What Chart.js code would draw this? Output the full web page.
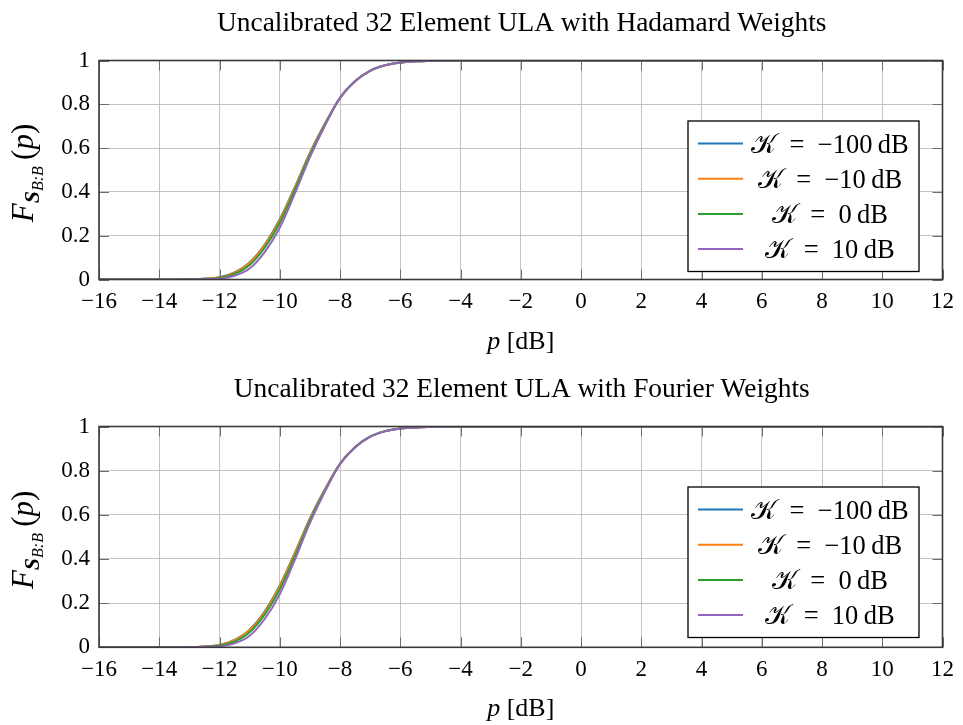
<!DOCTYPE html>
<html><head><meta charset="utf-8">
<script src="https://cdn.jsdelivr.net/npm/chart.js@4"></script>
<style>
html,body{margin:0;padding:0;background:#fff;width:963px;height:725px;overflow:hidden}
canvas{position:absolute;left:0}
</style></head><body>
<canvas id="c1" width="963" height="362" style="top:0px"></canvas>
<canvas id="c2" width="963" height="359" style="top:366px"></canvas>
<script>
// ---------------- data ----------------
const titles = ['Uncalibrated 32 Element ULA with Hadamard Weights', 'Uncalibrated 32 Element ULA with Fourier Weights'];
const seriesLabels = ['−100', '−10', '0', '10'];
const seriesColors = ['#1f77b4', '#ff7f0e', '#2ca02c', '#9467bd'];
const xTicks = [-16, -14, -12, -10, -8, -6, -4, -2, 0, 2, 4, 6, 8, 10, 12];
const yTicks = [0, 0.2, 0.4, 0.6, 0.8, 1];
const xValues = [-16, -15, -14, -13, -12.5, -12, -11.5, -11, -10.5, -10, -9.5, -9, -8.5, -8, -7.5, -7, -6.5, -6, -5.5, -5, -4.5, -4, -3, -2, 0, 2, 4, 6, 8, 10, 12];

const hadamardKm100 = [0, 0, 0, 0.001, 0.004, 0.010, 0.032, 0.078, 0.160, 0.275, 0.422, 0.578, 0.712, 0.830, 0.906, 0.954, 0.979, 0.991, 0.996, 0.998, 0.999, 1, 1, 1, 1, 1, 1, 1, 1, 1, 1];
const hadamardKm10  = [0, 0, 0, 0.001, 0.004, 0.009, 0.030, 0.075, 0.156, 0.270, 0.418, 0.575, 0.710, 0.829, 0.905, 0.953, 0.978, 0.990, 0.996, 0.998, 0.999, 1, 1, 1, 1, 1, 1, 1, 1, 1, 1];
const hadamardK0    = [0, 0, 0, 0.001, 0.003, 0.007, 0.025, 0.066, 0.145, 0.258, 0.408, 0.568, 0.707, 0.829, 0.905, 0.953, 0.978, 0.990, 0.996, 0.998, 0.999, 1, 1, 1, 1, 1, 1, 1, 1, 1, 1];
const hadamardK10   = [0, 0, 0, 0.000, 0.002, 0.004, 0.017, 0.050, 0.125, 0.236, 0.392, 0.558, 0.702, 0.828, 0.905, 0.953, 0.978, 0.990, 0.996, 0.998, 0.999, 1, 1, 1, 1, 1, 1, 1, 1, 1, 1];

const fourierKm100 = [0, 0, 0, 0.001, 0.004, 0.011, 0.034, 0.080, 0.163, 0.280, 0.428, 0.584, 0.716, 0.832, 0.907, 0.955, 0.979, 0.991, 0.996, 0.998, 0.999, 1, 1, 1, 1, 1, 1, 1, 1, 1, 1];
const fourierKm10  = [0, 0, 0, 0.001, 0.004, 0.010, 0.032, 0.078, 0.160, 0.276, 0.424, 0.580, 0.714, 0.831, 0.906, 0.954, 0.979, 0.991, 0.996, 0.998, 0.999, 1, 1, 1, 1, 1, 1, 1, 1, 1, 1];
const fourierK0    = [0, 0, 0, 0.001, 0.003, 0.008, 0.026, 0.068, 0.148, 0.262, 0.412, 0.572, 0.710, 0.830, 0.906, 0.954, 0.979, 0.991, 0.996, 0.998, 0.999, 1, 1, 1, 1, 1, 1, 1, 1, 1, 1];
const fourierK10   = [0, 0, 0, 0.000, 0.002, 0.004, 0.018, 0.052, 0.128, 0.240, 0.396, 0.562, 0.705, 0.829, 0.905, 0.953, 0.978, 0.990, 0.996, 0.998, 0.999, 1, 1, 1, 1, 1, 1, 1, 1, 1, 1];

// ---------------- helpers ----------------
const SERIF = "'Liberation Serif', 'DejaVu Serif', serif";
const fmt = v => String(v).replace('-', '−');

function drawRuns(ctx, runs, cx, cy) {
  // runs: [text, font, dy]
  let total = 0;
  runs.forEach(r => { ctx.font = r[1]; total += ctx.measureText(r[0]).width; });
  let x = cx - total / 2;
  ctx.textBaseline = 'alphabetic';
  ctx.textAlign = 'left';
  runs.forEach(r => { ctx.font = r[1]; ctx.fillText(r[0], x, cy + (r[2] || 0)); x += ctx.measureText(r[0]).width; });
}

const decoPlugin = {
  id: 'deco',
  afterDraw(chart, args, opts) {
    const ctx = chart.ctx;
    const a = chart.chartArea;
    const xs = chart.scales.x, ys = chart.scales.y;
    ctx.save();
    // inward tick marks
    ctx.strokeStyle = '#6e6e6e';
    ctx.lineWidth = 1;
    ctx.beginPath();
    xTicks.forEach(v => {
      const px = Math.round(xs.getPixelForValue(v)) + 0.5;
      ctx.moveTo(px, a.bottom); ctx.lineTo(px, a.bottom - 10);
      ctx.moveTo(px, a.top); ctx.lineTo(px, a.top + 10);
    });
    yTicks.forEach(v => {
      const py = Math.round(ys.getPixelForValue(v)) + 0.5;
      ctx.moveTo(a.left, py); ctx.lineTo(a.left + 10, py);
      ctx.moveTo(a.right, py); ctx.lineTo(a.right - 10, py);
    });
    ctx.stroke();
    // axis box
    ctx.strokeStyle = '#3a3a3a';
    ctx.lineWidth = 1.6;
    ctx.strokeRect(a.left, a.top, a.right - a.left, a.bottom - a.top);
    // title
    ctx.fillStyle = '#000';
    ctx.font = '27.4px ' + SERIF;
    ctx.textAlign = 'center';
    ctx.textBaseline = 'alphabetic';
    ctx.fillText(opts.title, (a.left + a.right) / 2 + 1, a.top - 30);
    // x axis title
    drawRuns(ctx, [['p', 'italic 26px ' + SERIF, 0], [' [dB]', '26px ' + SERIF, 0]], (a.left + a.right) / 2, a.bottom + 69);
    // y axis title (rotated)
    ctx.save();
    ctx.translate(33, (a.top + a.bottom) / 2 + 3);
    ctx.rotate(-Math.PI / 2);
    drawRuns(ctx, [
      ['F', 'italic 31px ' + SERIF, 0],
      ['S', 'italic bold 22px ' + SERIF, 6],
      ['B:B', 'italic 16px ' + SERIF, 10],
      ['\u2009(', '31px ' + SERIF, 0],
      ['p', 'italic 31px ' + SERIF, 0],
      [')', '31px ' + SERIF, 0]
    ], 0, 0);
    ctx.restore();
    // legend box
    const lx = 688, ly = a.top + 60.5, lw = 231, lh = 150.5;
    ctx.fillStyle = '#fff';
    ctx.fillRect(lx, ly, lw, lh);
    ctx.strokeStyle = '#000';
    ctx.lineWidth = 1.3;
    ctx.strokeRect(lx, ly, lw, lh);
    chart.data.datasets.forEach((ds, i) => {
      const ry = ly + 22.5 + i * 35.2;
      ctx.strokeStyle = ds.borderColor;
      ctx.lineWidth = 2;
      ctx.beginPath(); ctx.moveTo(698, ry); ctx.lineTo(743, ry); ctx.stroke();
      ctx.fillStyle = '#000';
      drawRuns(ctx, [
        ['𝒦', '27px ' + SERIF, 0],
        ['\u2002=\u2002' + ds.label + '\u2009dB', '26.5px ' + SERIF, 0]
      ], 830, ry + 9);
    });
    ctx.restore();
  }
};

function makeChart(id, title, series, canvasH, areaBottom) {
  return new Chart(document.getElementById(id), {
    type: 'line',
    data: {
      datasets: series.map((ys, i) => ({
        label: seriesLabels[i],
        data: xValues.map((x, j) => ({ x: x, y: ys[j] })),
        borderColor: seriesColors[i],
        backgroundColor: seriesColors[i],
        borderWidth: 2,
        pointRadius: 0,
        cubicInterpolationMode: 'monotone',
        fill: false,
        order: 3 - i
      }))
    },
    options: {
      responsive: false,
      animation: false,
      events: [],
      layout: { padding: { top: 60.5, right: 16, left: 0, bottom: 0 } },
      plugins: { legend: { display: false }, tooltip: { enabled: false }, title: { display: false }, deco: { title: title } },
      scales: {
        x: {
          type: 'linear', min: -16, max: 12,
          afterBuildTicks: s => { s.ticks = xTicks.map(v => ({ value: v })); },
          afterFit: s => { s.height = canvasH - areaBottom; },
          grid: { color: '#c4c4c4', lineWidth: 1, drawTicks: false },
          border: { display: false },
          ticks: { callback: v => fmt(v), color: '#000', padding: 9, maxRotation: 0, autoSkip: false, font: { family: SERIF, size: 23 } }
        },
        y: {
          min: 0, max: 1,
          afterBuildTicks: s => { s.ticks = yTicks.map(v => ({ value: v })); },
          afterFit: s => { s.width = 99; },
          grid: { color: '#c4c4c4', lineWidth: 1, drawTicks: false },
          border: { display: false },
          ticks: { callback: v => String(v), color: '#000', padding: 9, autoSkip: false, font: { family: SERIF, size: 23 } }
        }
      }
    },
    plugins: [decoPlugin]
  });
}

makeChart('c1', titles[0], [hadamardKm100, hadamardKm10, hadamardK0, hadamardK10], 362, 279.5);
makeChart('c2', titles[1], [fourierKm100, fourierKm10, fourierK0, fourierK10], 359, 281.3);
</script>
</body></html>
